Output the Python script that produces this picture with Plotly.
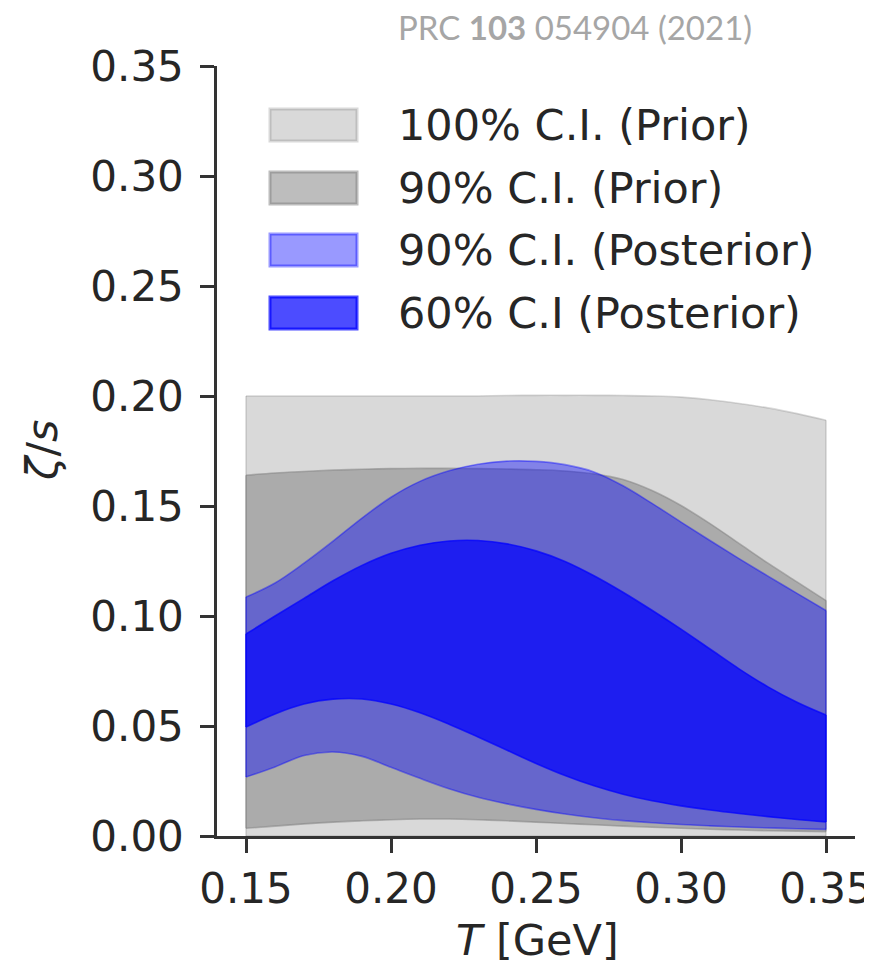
import plotly.graph_objects as go

# ---------------- data ----------------
T = [0.15, 0.16, 0.17, 0.18, 0.19, 0.20, 0.21, 0.22, 0.23, 0.24, 0.25,
     0.26, 0.27, 0.28, 0.29, 0.30, 0.31, 0.32, 0.33, 0.34, 0.35]

prior100_upper = [0.200, 0.200, 0.200, 0.200, 0.200, 0.200, 0.200, 0.200, 0.200, 0.2002, 0.2003,
                  0.2003, 0.2003, 0.2002, 0.2000, 0.1995, 0.1983, 0.1966, 0.1946, 0.1920, 0.1890]
prior100_lower = [0.000, 0.000, 0.000, 0.000, 0.000, 0.000, 0.000, 0.000, 0.000, 0.000, 0.000,
                  0.000, 0.000, 0.000, 0.000, 0.000, 0.000, 0.000, 0.000, 0.000, 0.000]

prior90_upper = [0.1640, 0.1650, 0.1657, 0.1663, 0.1667, 0.1670, 0.1671, 0.1671, 0.1670, 0.1668, 0.1665,
                 0.1659, 0.1646, 0.1620, 0.1570, 0.1502, 0.1420, 0.1330, 0.1240, 0.1155, 0.1070]
prior90_lower = [0.0035, 0.0045, 0.0055, 0.0063, 0.0069, 0.0074, 0.0077, 0.0077, 0.0074, 0.0069, 0.0063,
                 0.0057, 0.0051, 0.0045, 0.0040, 0.0035, 0.0031, 0.0027, 0.0024, 0.0022, 0.0020]

post90_upper = [0.1086, 0.1150, 0.1240, 0.1340, 0.1445, 0.1540, 0.1612, 0.1660, 0.1690, 0.1704, 0.1703,
                0.1688, 0.1655, 0.1592, 0.1512, 0.1427, 0.1343, 0.1261, 0.1181, 0.1103, 0.1025]
post90_lower = [0.0268, 0.0314, 0.0366, 0.0382, 0.0362, 0.0312, 0.0262, 0.0215, 0.0176, 0.0146, 0.0121,
                0.0100, 0.0083, 0.0070, 0.0060, 0.0052, 0.0046, 0.0041, 0.0037, 0.0033, 0.0030]

post60_upper = [0.0918, 0.1000, 0.1080, 0.1160, 0.1230, 0.1285, 0.1322, 0.1341, 0.1343, 0.1328, 0.1296,
                0.1248, 0.1183, 0.1108, 0.1026, 0.0940, 0.0850, 0.0760, 0.0678, 0.0608, 0.0550]
post60_lower = [0.0495, 0.0555, 0.0600, 0.0622, 0.0623, 0.0600, 0.0560, 0.0508, 0.0450, 0.0390, 0.0330,
                0.0275, 0.0228, 0.0190, 0.0160, 0.0137, 0.0118, 0.0102, 0.0088, 0.0075, 0.0064]

x_ticks = [0.15, 0.20, 0.25, 0.30, 0.35]
x_ticklabels = ["0.15", "0.20", "0.25", "0.30", "0.35"]
y_ticks = [0.00, 0.05, 0.10, 0.15, 0.20, 0.25, 0.30, 0.35]
y_ticklabels = ["0.00", "0.05", "0.10", "0.15", "0.20", "0.25", "0.30", "0.35"]

band_labels = ["100% C.I. (Prior)", "90% C.I. (Prior)", "90% C.I. (Posterior)", "60% C.I (Posterior)"]
band_colors = ["rgba(128,128,128,0.30)", "rgba(128,128,128,0.52)",
               "rgba(0,0,255,0.40)", "rgba(0,0,255,0.70)"]
bands = [(prior100_lower, prior100_upper), (prior90_lower, prior90_upper),
         (post90_lower, post90_upper), (post60_lower, post60_upper)]

title_text = "PRC <b>103</b> 054904 (2021)"

# ---------------- figure geometry (page px; page has 8px body margin) ----------------
OFF = 8
W, H = 872 - OFF, 973 - 2 * OFF
PLOT_L, PLOT_R, PLOT_T, PLOT_B = 217, 855, 66, 836   # page coordinates of plot area
L = PLOT_L - OFF
TOP = PLOT_T - OFF
R = W - (PLOT_R - OFF)
B = H - (PLOT_B - OFF)
PW, PH = W - L - R, H - TOP - B


def px(xp):
    return (xp - OFF - L) / PW


def py(yp):
    return ((PLOT_B - OFF) - (yp - OFF)) / PH


fig = go.Figure()
TXT = "#262626"

for (lo, hi), col, lab in zip(bands, band_colors, band_labels):
    fig.add_trace(go.Scatter(x=T, y=lo, mode="lines",
                             line=dict(color=col, width=1.6, shape="spline"),
                             showlegend=False, hoverinfo="skip"))
    fig.add_trace(go.Scatter(x=T, y=hi, mode="lines", fill="tonexty", fillcolor=col,
                             line=dict(color=col, width=1.6, shape="spline"),
                             name=lab, showlegend=False, hoverinfo="skip"))
    for i in (0, -1):
        fig.add_trace(go.Scatter(x=[T[i], T[i]], y=[lo[i], hi[i]], mode="lines",
                                 line=dict(color=col, width=1.6),
                                 showlegend=False, hoverinfo="skip"))

# custom legend (matplotlib-like large patches)
rows_y = [125, 188, 250, 313]
for yy, col, lab in zip(rows_y, band_colors, band_labels):
    fig.add_shape(type="rect", xref="paper", yref="paper",
                  x0=px(270), x1=px(357), y0=py(yy + 16), y1=py(yy - 16),
                  fillcolor=col, line=dict(color=col, width=3))
    fig.add_annotation(x=px(396), y=py(yy), xref="paper", yref="paper",
                       text=lab, showarrow=False, xanchor="left", yanchor="middle",
                       font=dict(family="DejaVu Sans", size=43, color=TXT))

# title
fig.add_annotation(x=px(575), y=py(27), xref="paper", yref="paper",
                   text=title_text, showarrow=False, xanchor="center", yanchor="middle",
                   borderpad=0,
                   font=dict(family="Lato", size=33, color="#a6a6a6"))

# axis titles
fig.add_annotation(x=px(42), y=py(451), xref="paper", yref="paper",
                   text="<i>ζ</i>/<i>s</i>", showarrow=False, textangle=-90,
                   xanchor="center", yanchor="middle",
                   font=dict(family="DejaVu Sans", size=43, color=TXT))
fig.add_annotation(x=px(537), y=py(940), xref="paper", yref="paper",
                   text="<i>T</i> [GeV]", showarrow=False, borderpad=0,
                   xanchor="center", yanchor="middle",
                   font=dict(family="DejaVu Sans", size=43, color=TXT))

axis_common = dict(showline=True, linecolor="#333333", linewidth=2.5,
                   ticks="outside", ticklen=14, tickwidth=2.5, tickcolor="#333333",
                   showgrid=False, zeroline=False, ticklabeloverflow="allow",
                   automargin=False,
                   tickfont=dict(family="DejaVu Sans", size=42, color=TXT))

fig.update_layout(
    width=W, height=H,
    margin=dict(l=L, r=R, t=TOP, b=B, autoexpand=False),
    paper_bgcolor="white", plot_bgcolor="white",
    showlegend=False,
    xaxis=dict(range=[0.14, 0.36], tickvals=x_ticks, ticktext=x_ticklabels, **axis_common),
    yaxis=dict(range=[0.0, 0.35], tickvals=y_ticks, ticktext=y_ticklabels,
               ticklabelstandoff=8, **axis_common),
)

fig.write_html("out.html")
